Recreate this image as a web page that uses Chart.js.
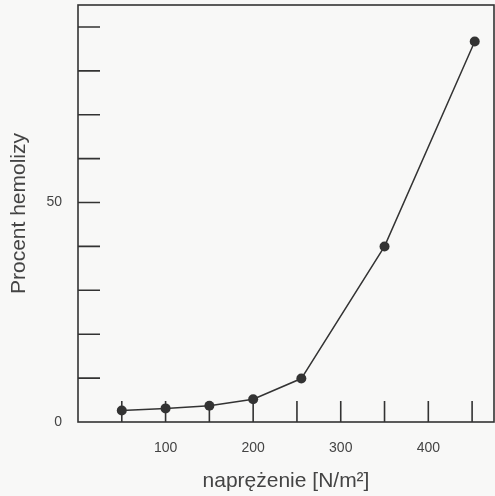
<!DOCTYPE html>
<html lang="pl">
<head>
    <meta charset="UTF-8">
    <title>Procent hemolizy</title>
    <script src="https://cdn.jsdelivr.net/npm/chart.js"></script>
    <style>
        html, body {
            margin: 0;
            padding: 0;
            background: #f8f8f7;
        }
        #wrap {
            width: 495px;
            height: 496px;
        }
    </style>
</head>
<body>
<div id="wrap"><canvas id="wykres" width="495" height="496"></canvas></div>
<script>
    // dane
    const naprezenie = [50, 100, 150, 200, 255, 350, 453];
    const hemoliza = [2.6, 3.1, 3.7, 5.2, 9.9, 40, 86.7];

    const xTicks = [50, 100, 150, 200, 250, 300, 350, 400, 450];
    const xLabels = [100, 200, 300, 400];
    const yTicks = [10, 20, 30, 40, 50, 60, 70, 80, 90];
    const yLabels = [0, 50];

    const kolor = '#333';

    // ramka i krotkie znaczniki skierowane do srodka
    const ramka = {
        id: 'ramka',
        afterDatasetsDraw(chart) {
            const { ctx, chartArea: a, scales: { x, y } } = chart;
            ctx.save();
            ctx.strokeStyle = kolor;
            ctx.lineWidth = 1.6;
            ctx.strokeRect(a.left, a.top, a.right - a.left, a.bottom - a.top);
            ctx.beginPath();
            xTicks.forEach(v => {
                const px = x.getPixelForValue(v);
                ctx.moveTo(px, a.bottom);
                ctx.lineTo(px, a.bottom - 21);
            });
            yTicks.forEach(v => {
                const py = y.getPixelForValue(v);
                ctx.moveTo(a.left, py);
                ctx.lineTo(a.left + 22, py);
            });
            ctx.stroke();
            ctx.restore();
        }
    };

    const ctx = document.getElementById('wykres').getContext('2d');
    const wykres = new Chart(ctx, {
        type: 'line',
        data: {
            datasets: [{
                data: naprezenie.map((v, i) => ({ x: v, y: hemoliza[i] })),
                borderColor: kolor,
                backgroundColor: kolor,
                borderWidth: 1.5,
                pointRadius: 5,
                pointBackgroundColor: kolor,
                pointBorderWidth: 0,
                tension: 0,
                fill: false,
                clip: false
            }]
        },
        options: {
            responsive: false,
            animation: false,
            layout: { autoPadding: false, padding: { top: 5, right: 1 } },
            plugins: {
                legend: { display: false },
                tooltip: { enabled: false }
            },
            scales: {
                x: {
                    type: 'linear',
                    min: 0,
                    max: 475,
                    grid: { display: false, drawTicks: false },
                    border: { display: false },
                    afterFit(scale) {
                        scale.height = 74;
                        scale.paddingLeft = 0;
                        scale.paddingRight = 0;
                    },
                    ticks: {
                        stepSize: 50,
                        padding: 18,
                        color: '#444',
                        font: { family: 'Liberation Sans', size: 14 },
                        callback: v => xLabels.includes(v) ? String(v) : ''
                    },
                    title: {
                        display: true,
                        text: 'naprężenie [N/m²]',
                        color: '#444',
                        font: { family: 'Liberation Sans', size: 21 },
                        padding: { top: 0, bottom: 2 }
                    }
                },
                y: {
                    min: 0,
                    max: 95,
                    grid: { display: false, drawTicks: false },
                    border: { display: false },
                    afterFit(scale) {
                        scale.width = 78;
                        scale.paddingTop = 0;
                        scale.paddingBottom = 0;
                    },
                    ticks: {
                        stepSize: 10,
                        padding: 16,
                        color: '#444',
                        font: { family: 'Liberation Sans', size: 14 },
                        callback: v => yLabels.includes(v) ? String(v) : ''
                    },
                    title: {
                        display: true,
                        text: 'Procent hemolizy',
                        color: '#444',
                        font: { family: 'Liberation Sans', size: 21 },
                        padding: { top: 7, bottom: 0 }
                    }
                }
            }
        },
        plugins: [ramka]
    });
</script>
</body>
</html>
